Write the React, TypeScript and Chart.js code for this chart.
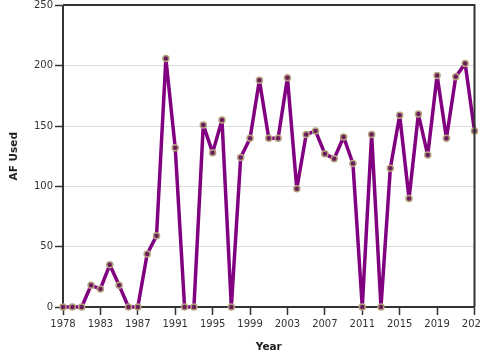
import React, { useEffect, useRef } from "react";
import { Chart, registerables } from "chart.js";

Chart.register(...registerables);

const years: number[] = [
  1978, 1979, 1980, 1981, 1982, 1983, 1984, 1985, 1986, 1987, 1988, 1989, 1990,
  1991, 1992, 1993, 1994, 1995, 1996, 1997, 1998, 1999, 2000, 2001, 2002, 2003,
  2004, 2005, 2006, 2007, 2008, 2009, 2010, 2011, 2012, 2013, 2014, 2015, 2016,
  2017, 2018, 2019, 2020, 2021, 2022,
];
const afUsed: number[] = [
  0, 0, 0, 18, 15, 35, 18, 0, 0, 44, 59, 206, 132,
  0, 0, 151, 128, 155, 0, 124, 140, 188, 140, 140, 190, 98,
  143, 146, 127, 123, 141, 119, 0, 143, 0, 115, 159, 90, 160,
  126, 192, 140, 191, 202, 146,
];
const xTickLabels: string[] = [
  "1978", "1983", "1987", "1991", "1995", "1999", "2003", "2007", "2011", "2015", "2019", "2023",
];
const yTicks: number[] = [0, 50, 100, 150, 200, 250];

const FONT = "'DejaVu Sans', Verdana, sans-serif";
const DARK = "#333333";

const frame = {
  id: "frame",
  afterDraw(chart: any) {
    const { ctx, chartArea: a } = chart;
    ctx.save();
    ctx.strokeStyle = DARK;
    ctx.lineWidth = 2;
    ctx.beginPath();
    ctx.moveTo(a.left, a.top - 0.5);
    ctx.lineTo(a.right, a.top - 0.5);
    ctx.lineTo(a.right, a.bottom);
    ctx.stroke();
    ctx.restore();
  },
};

export default function App() {
  const ref = useRef<HTMLCanvasElement | null>(null);
  useEffect(() => {
    if (!ref.current) return;
    const chart = new Chart(ref.current, {
      type: "line",
      data: {
        datasets: [
          {
            label: "AF Used",
            data: years.map((y, i) => ({ x: y, y: afUsed[i] })),
            borderColor: "#800080",
            borderWidth: 3.5,
            borderJoinStyle: "round",
            borderCapStyle: "round",
            pointRadius: 3,
            pointBorderWidth: 1.5,
            pointBackgroundColor: "#6a1d5b",
            pointBorderColor: "#b5a27e",
            tension: 0,
            clip: false as any,
          },
        ],
      },
      options: {
        animation: false,
        responsive: false,
        layout: { padding: { left: 0, right: 4, top: 4, bottom: 0 } },
        plugins: { legend: { display: false }, tooltip: { enabled: false } },
        scales: {
          x: {
            type: "linear",
            min: 1978,
            max: 2022,
            afterBuildTicks: (scale: any) => {
              scale.ticks = xTickLabels.map((_, i) => ({ value: 1978 + i * 4 }));
            },
            afterFit: (scale: any) => {
              scale.paddingRight = 0;
              scale.height = 53;
            },
            ticks: {
              callback: (v: any) => xTickLabels[Math.round((Number(v) - 1978) / 4)],
              color: DARK,
              font: { family: FONT, size: 10 },
              padding: 3,
              maxRotation: 0,
              autoSkip: false,
            },
            grid: { drawOnChartArea: false, drawTicks: true, tickLength: 8, tickColor: DARK, tickWidth: 1.5 },
            border: { display: true, color: DARK, width: 2 },
            title: {
              display: true,
              text: "Year",
              color: "#222",
              font: { family: FONT, size: 10.5, weight: "bold" },
              padding: { top: 4, bottom: 6.7 },
            },
          },
          y: {
            min: 0,
            max: 250,
            afterBuildTicks: (scale: any) => {
              scale.ticks = yTicks.map((v) => ({ value: v }));
            },
            afterFit: (scale: any) => {
              scale.width = 63;
              scale.paddingTop = 0;
              scale.paddingBottom = 0;
            },
            ticks: {
              color: DARK,
              font: { family: FONT, size: 10 },
              padding: 2,
            },
            grid: { color: "#dddddd", lineWidth: 1, tickLength: 8, tickColor: DARK, tickWidth: 1.5 },
            border: { display: true, color: DARK, width: 2 },
            title: {
              display: true,
              text: "AF Used",
              color: "#222",
              font: { family: FONT, size: 10.5, weight: "bold" },
              padding: { top: 7.7, bottom: 4 },
            },
          },
        },
      },
      plugins: [frame],
    });
    return () => chart.destroy();
  }, []);
  return (
    <div style={{ position: "fixed", left: 0, top: 0, width: 480, height: 360, overflow: "hidden", background: "#fff" }}>
      <canvas ref={ref} width={480} height={360} style={{ display: "block" }} />
    </div>
  );
}
